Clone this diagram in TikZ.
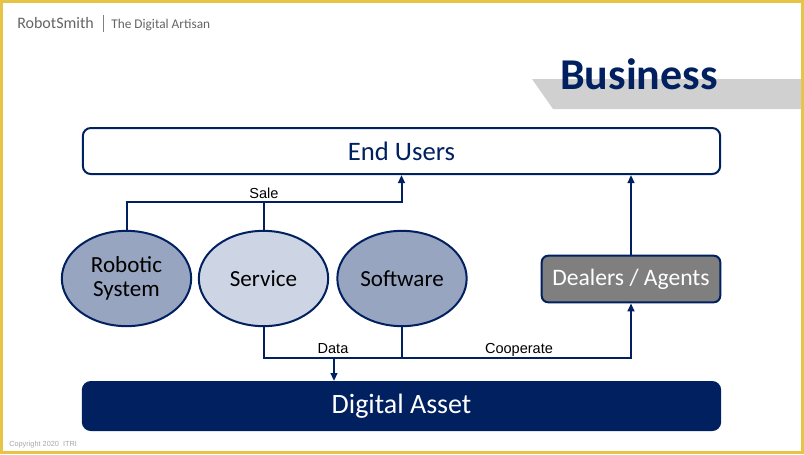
\documentclass[tikz,border=0pt]{standalone}
\usepackage{fontspec}
\setmainfont{Carlito}
\newfontfamily\arialfont{Liberation Sans}
\usetikzlibrary{arrows.meta,shapes.geometric}
\definecolor{navy}{RGB}{0,32,96}
\definecolor{steel}{RGB}{151,165,192}
\definecolor{pale}{RGB}{205,213,228}
\definecolor{dealgray}{RGB}{127,127,127}
\definecolor{frame}{RGB}{232,196,70}
\definecolor{band}{RGB}{208,208,208}
\definecolor{brandgray}{RGB}{100,100,100}

\begin{document}
\begin{tikzpicture}[x=0.75pt,y=-0.75pt,
	oval/.style={ellipse,draw=navy,line width=1.5pt,minimum width=97pt,minimum height=71.5pt,inner sep=0pt,align=center,font=\fontsize{17.3}{18}\selectfont},
	bar/.style={rectangle,rounded corners=6pt,draw=navy,line width=1.5pt,minimum width=478pt,inner sep=0pt},
	link/.style={draw=navy,line width=1.5pt},
	arr/.style={link,-{Triangle[length=6pt,width=5pt]}},
	tag/.style={anchor=base,inner sep=0pt,font=\arialfont\fontsize{10.9}{12}\selectfont}]
	\useasboundingbox (0,0) rectangle (804,454);
	\draw[frame,line width=2.6pt] (1.7,1.7) rectangle (802.3,452.3);
	\fill[band] (532,79) -- (801,79) -- (801,109) -- (553,109) -- cycle;
	\node[anchor=base,inner sep=0pt,text=navy,font=\bfseries\fontsize{33}{33}\selectfont] (title) at (639,89) {Business};
	\node[anchor=base west,inner sep=0pt,text=brandgray,font=\fontsize{12}{12}\selectfont] (brand) at (17,28) {RobotSmith};
	\draw[gray,line width=0.6pt] (103,15) -- (103,32);
	\node[anchor=base west,inner sep=0pt,text=brandgray,font=\fontsize{10}{10}\selectfont] (motto) at (111,28) {The Digital Artisan};
	\node[anchor=base west,inner sep=0pt,text=gray!70,font=\arialfont\fontsize{5.5}{6}\selectfont] (copy) at (9,446) {Copyright 2020\ \ ITRI};

	\node[bar,minimum height=34.5pt,fill=white,text=navy,font=\fontsize{20}{20}\selectfont] (users) at (401.5,151) {End Users};
	\node[bar,minimum height=36pt,fill=navy,text=white,font=\fontsize{21}{21}\selectfont] (asset) at (401.5,406) {Digital Asset};
	\node[oval,fill=steel] (robot) at (126.5,278.5) {Robotic\\System};
	\node[oval,fill=pale] (service) at (263.5,278.5) {Service};
	\node[oval,fill=steel] (software) at (402,278.5) {Software};
	\node[bar,rounded corners=5pt,minimum width=134pt,minimum height=35pt,fill=dealgray,text=white,font=\fontsize{17.7}{18}\selectfont] (dealers) at (631,279) {Dealers / Agents};

	\coordinate (sale) at (263.5,202);
	\draw[arr] (robot.north) |- (sale) -| (users.south);
	\draw[link] (service.north) -- (sale);
	\node[tag] (saletag) at (264,198) {Sale};

	\coordinate (data) at (402,358);
	\coordinate (datadrop) at (334,358);
	\draw[arr] (service.south) |- (data) -| (dealers.south);
	\draw[link] (software.south) -- (data);
	\draw[arr] (datadrop) -- (datadrop |- asset.north);
	\node[tag] (datatag) at (333,353) {Data};
	\node[tag] (cooptag) at (519,353) {Cooperate};

	\draw[arr] (dealers.north) -- (dealers.north |- users.south);
\end{tikzpicture}
\end{document}
